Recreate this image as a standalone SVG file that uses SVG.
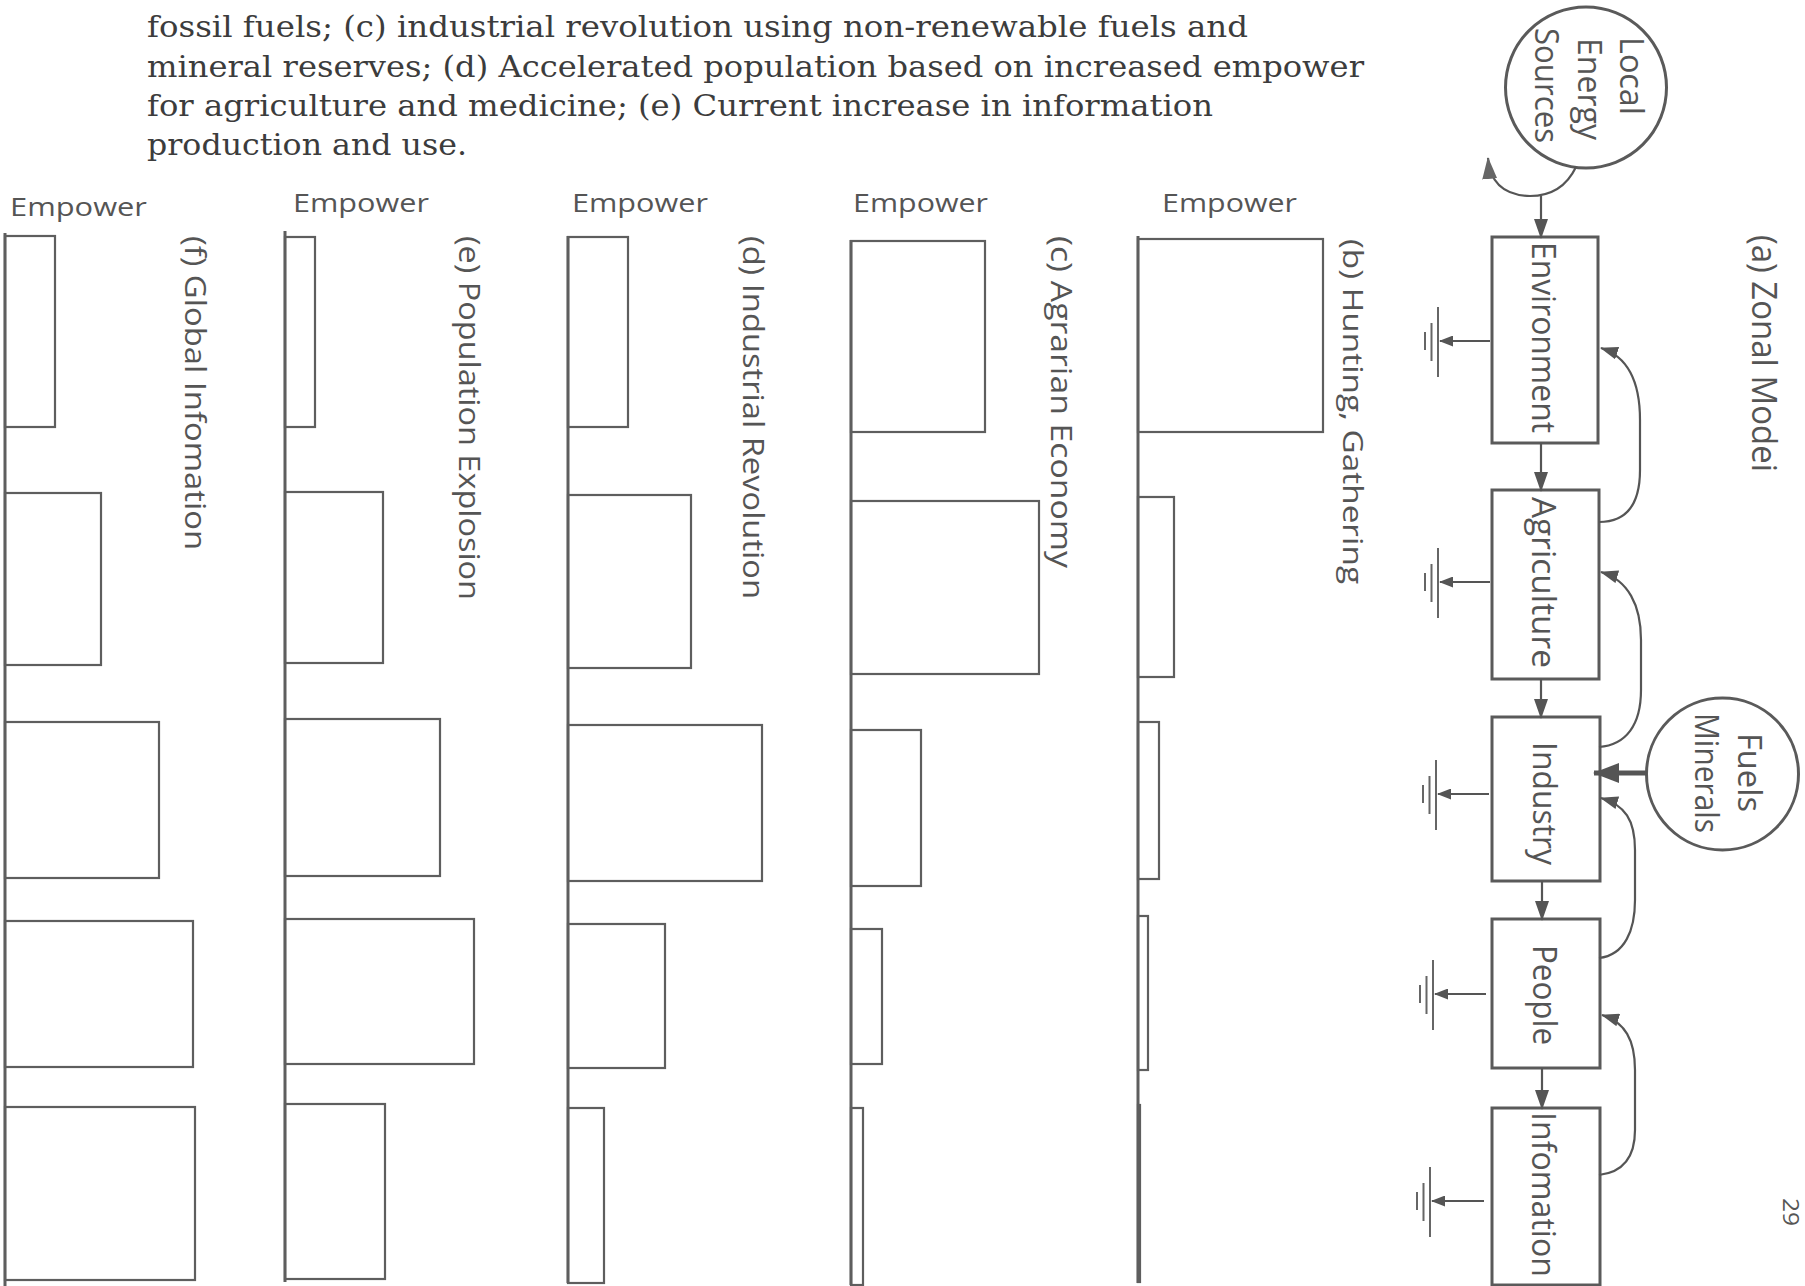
<svg xmlns="http://www.w3.org/2000/svg" width="1805" height="1286" viewBox="0 0 1805 1286">
<style>
.bar{fill:none;stroke:#5e5e5e;stroke-width:2.2}
.axis{stroke:#5e5e5e;stroke-width:3;fill:none}
.box{fill:#fff;stroke:#5a5a5a;stroke-width:3}
.circ{fill:#fff;stroke:#5a5a5a;stroke-width:3}
.ln{stroke:#555;stroke-width:2.2;fill:none}
.gl{stroke:#666;stroke-width:2;fill:none}
.sans{font-family:"Open Sans","Liberation Sans",sans-serif;fill:#555}
.para{font-family:"DejaVu Serif","Liberation Serif",serif;fill:#3c3c3c;font-size:29px}
</style>
<defs>
<marker id="ah" viewBox="0 0 20 14" refX="19" refY="7" markerWidth="20" markerHeight="14" markerUnits="userSpaceOnUse" orient="auto"><path d="M0,0 L20,7 L0,14 Z" fill="#555"/></marker>
<marker id="ahs" viewBox="0 0 14 11" refX="13" refY="5.5" markerWidth="14" markerHeight="11" markerUnits="userSpaceOnUse" orient="auto"><path d="M0,0 L14,5.5 L0,11 Z" fill="#555"/></marker>
<marker id="ahf" viewBox="0 0 18 13" refX="17" refY="6.5" markerWidth="18" markerHeight="13" markerUnits="userSpaceOnUse" orient="auto"><path d="M0,0 L18,6.5 L0,13 Z" fill="#555"/></marker>
<marker id="ahb" viewBox="0 0 26 20" refX="25" refY="10" markerWidth="26" markerHeight="20" markerUnits="userSpaceOnUse" orient="auto"><path d="M0,0 L26,10 L0,20 Z" fill="#555"/></marker>
<marker id="aho" viewBox="0 0 22 15" refX="21" refY="7.5" markerWidth="22" markerHeight="15" markerUnits="userSpaceOnUse" orient="auto"><path d="M0,0 L22,7.5 L0,15 Z" fill="#666"/></marker>
<path id="gnd" d="M0,-34 V36 M-6.5,-18 V20 M-13,-9 V9"/>
</defs>
<rect width="1805" height="1286" fill="#fff"/>

<g id="caption">
<text class="para" x="147" y="37" textLength="1101" lengthAdjust="spacingAndGlyphs">fossil fuels;  (c) industrial revolution using non-renewable fuels and</text>
<text class="para" x="147" y="77" textLength="1217" lengthAdjust="spacingAndGlyphs">mineral reserves; (d) Accelerated population based on increased empower</text>
<text class="para" x="147" y="116" textLength="1066" lengthAdjust="spacingAndGlyphs">for agriculture and medicine; (e)  Current increase in information</text>
<text class="para" x="147" y="155" textLength="320" lengthAdjust="spacingAndGlyphs">production and use.</text>
</g>

<g id="panel-f">
<text class="sans" x="10" y="216" font-size="26" textLength="137" lengthAdjust="spacingAndGlyphs">Empower</text>
<line class="axis" x1="5" y1="233" x2="5" y2="1286"/>
<rect class="bar" x="5" y="236" width="50" height="191"/>
<rect class="bar" x="5" y="493" width="96" height="172"/>
<rect class="bar" x="5" y="722" width="154" height="156"/>
<rect class="bar" x="5" y="921" width="188" height="146"/>
<rect class="bar" x="5" y="1107" width="190" height="173"/>
<text class="sans" transform="translate(185,236) rotate(90)" font-size="29" textLength="314" lengthAdjust="spacingAndGlyphs">(f) Global Infomation</text>
</g>

<g id="panel-e">
<text class="sans" x="293" y="212" font-size="26" textLength="136" lengthAdjust="spacingAndGlyphs">Empower</text>
<line class="axis" x1="285" y1="231" x2="285" y2="1282"/>
<rect class="bar" x="285" y="237" width="30" height="190"/>
<rect class="bar" x="285" y="492" width="98" height="171"/>
<rect class="bar" x="285" y="719" width="155" height="157"/>
<rect class="bar" x="285" y="919" width="189" height="145"/>
<rect class="bar" x="285" y="1104" width="100" height="175"/>
<text class="sans" transform="translate(459,236) rotate(90)" font-size="29" textLength="364" lengthAdjust="spacingAndGlyphs">(e) Population Explosion</text>
</g>

<g id="panel-d">
<text class="sans" x="572" y="212" font-size="26" textLength="136" lengthAdjust="spacingAndGlyphs">Empower</text>
<line class="axis" x1="568" y1="236" x2="568" y2="1283"/>
<rect class="bar" x="568" y="237" width="60" height="190"/>
<rect class="bar" x="568" y="495" width="123" height="173"/>
<rect class="bar" x="568" y="725" width="194" height="156"/>
<rect class="bar" x="568" y="924" width="97" height="144"/>
<rect class="bar" x="568" y="1108" width="36" height="175"/>
<text class="sans" transform="translate(743,236) rotate(90)" font-size="29" textLength="363" lengthAdjust="spacingAndGlyphs">(d) Industrial Revolution</text>
</g>

<g id="panel-c">
<text class="sans" x="853" y="212" font-size="26" textLength="135" lengthAdjust="spacingAndGlyphs">Empower</text>
<line class="axis" x1="851" y1="240" x2="851" y2="1285"/>
<rect class="bar" x="851" y="241" width="134" height="191"/>
<rect class="bar" x="851" y="501" width="188" height="173"/>
<rect class="bar" x="851" y="730" width="70" height="156"/>
<rect class="bar" x="851" y="929" width="31" height="135"/>
<rect class="bar" x="851" y="1108" width="12" height="177"/>
<text class="sans" transform="translate(1051,236) rotate(90)" font-size="29" textLength="332" lengthAdjust="spacingAndGlyphs">(c) Agrarian Economy</text>
</g>

<g id="panel-b">
<text class="sans" x="1162" y="212" font-size="26" textLength="135" lengthAdjust="spacingAndGlyphs">Empower</text>
<line class="axis" x1="1138" y1="236" x2="1138" y2="1283"/>
<rect class="bar" x="1138" y="239" width="185" height="193"/>
<rect class="bar" x="1138" y="497" width="36" height="180"/>
<rect class="bar" x="1138" y="722" width="21" height="157"/>
<rect class="bar" x="1138" y="916" width="10" height="154"/>
<rect class="bar" x="1138" y="1105" width="2" height="177"/>
<text class="sans" transform="translate(1343,239) rotate(90)" font-size="28" textLength="345" lengthAdjust="spacingAndGlyphs">(b) Hunting, Gathering</text>
</g>

<g id="title-a">
<text class="sans" transform="translate(1752,235) rotate(90)" font-size="35" textLength="237" lengthAdjust="spacingAndGlyphs">(a) Zonal Modei</text>
</g>

<g id="local-energy-sources">
<circle class="circ" cx="1586" cy="87.5" r="80.5"/>
<text class="sans" transform="translate(1620,37) rotate(90)" font-size="32" textLength="78" lengthAdjust="spacingAndGlyphs">Local</text>
<text class="sans" transform="translate(1578,38) rotate(90)" font-size="32" textLength="102" lengthAdjust="spacingAndGlyphs">Energy</text>
<text class="sans" transform="translate(1535,28) rotate(90)" font-size="32" textLength="115" lengthAdjust="spacingAndGlyphs">Sources</text>
</g>

<g id="fuels-minerals">
<circle class="circ" cx="1722.5" cy="774" r="76"/>
<text class="sans" transform="translate(1738,733) rotate(90)" font-size="33" textLength="79" lengthAdjust="spacingAndGlyphs">Fuels</text>
<text class="sans" transform="translate(1695,713) rotate(90)" font-size="33" textLength="120" lengthAdjust="spacingAndGlyphs">Minerals</text>
</g>

<g id="environment">
<rect class="box" x="1492" y="237" width="106" height="206"/>
<text class="sans" transform="translate(1532,242) rotate(90)" font-size="33" textLength="191" lengthAdjust="spacingAndGlyphs">Environment</text>
</g>
<g id="agriculture">
<rect class="box" x="1492" y="490" width="107" height="189"/>
<text class="sans" transform="translate(1532,497) rotate(90)" font-size="33" textLength="171" lengthAdjust="spacingAndGlyphs">Agriculture</text>
</g>
<g id="industry">
<rect class="box" x="1492" y="717" width="108" height="164"/>
<text class="sans" transform="translate(1533,742) rotate(90)" font-size="33" textLength="123" lengthAdjust="spacingAndGlyphs">Industry</text>
</g>
<g id="people">
<rect class="box" x="1492" y="919" width="108" height="149"/>
<text class="sans" transform="translate(1533,945) rotate(90)" font-size="33" textLength="100" lengthAdjust="spacingAndGlyphs">People</text>
</g>
<g id="information">
<rect class="box" x="1492" y="1108" width="108" height="177"/>
<text class="sans" transform="translate(1532,1112) rotate(90)" font-size="33" textLength="165" lengthAdjust="spacingAndGlyphs">Infomation</text>
</g>

<g id="sinks">
<use href="#gnd" class="gl" x="1438" y="341"/>
<use href="#gnd" class="gl" x="1438" y="582"/>
<use href="#gnd" class="gl" x="1436" y="794"/>
<use href="#gnd" class="gl" x="1433" y="994"/>
<use href="#gnd" class="gl" x="1430" y="1201"/>
</g>

<g id="page-number">
<text class="sans" transform="translate(1783,1198) rotate(90)" font-size="22" textLength="28" lengthAdjust="spacingAndGlyphs">29</text>
</g>

<g id="connectors">
<path class="ln" d="M1576,167 Q1562,196 1530,196 Q1491,195 1488,158" marker-end="url(#aho)"/>
<line class="ln" x1="1541" y1="196" x2="1541" y2="238" marker-end="url(#ah)"/>
<line class="ln" x1="1541" y1="443" x2="1541" y2="491" marker-end="url(#ah)"/>
<line class="ln" x1="1541" y1="679" x2="1541" y2="718" marker-end="url(#ah)"/>
<line class="ln" x1="1542" y1="881" x2="1542" y2="920" marker-end="url(#ah)"/>
<line class="ln" x1="1542" y1="1068" x2="1542" y2="1109" marker-end="url(#ah)"/>
<path class="ln" d="M1599,522 C1626,522 1640,505 1640,470 L1640,420 C1640,380 1626,356 1601,348" marker-end="url(#ahf)"/>
<path class="ln" d="M1599,747 C1626,745 1641,725 1641,690 L1641,640 C1641,605 1628,580 1601,572" marker-end="url(#ahf)"/>
<path class="ln" d="M1599,958 C1625,955 1635,930 1635,900 L1635,850 C1635,820 1625,805 1601,798" marker-end="url(#ahf)"/>
<path class="ln" d="M1599,1175 C1625,1172 1635,1155 1635,1130 L1635,1070 C1635,1040 1625,1022 1602,1015" marker-end="url(#ahf)"/>
<line x1="1647" y1="773" x2="1594" y2="773" stroke="#555" stroke-width="5" marker-end="url(#ahb)"/>
<line class="ln" x1="1490" y1="341" x2="1440" y2="341" stroke-width="1.6" marker-end="url(#ahs)"/>
<line class="ln" x1="1490" y1="582" x2="1440" y2="582" stroke-width="1.6" marker-end="url(#ahs)"/>
<line class="ln" x1="1489" y1="794" x2="1438" y2="794" stroke-width="1.6" marker-end="url(#ahs)"/>
<line class="ln" x1="1486" y1="994" x2="1435" y2="994" stroke-width="1.6" marker-end="url(#ahs)"/>
<line class="ln" x1="1484" y1="1201" x2="1432" y2="1201" stroke-width="1.6" marker-end="url(#ahs)"/>
</g>
</svg>
